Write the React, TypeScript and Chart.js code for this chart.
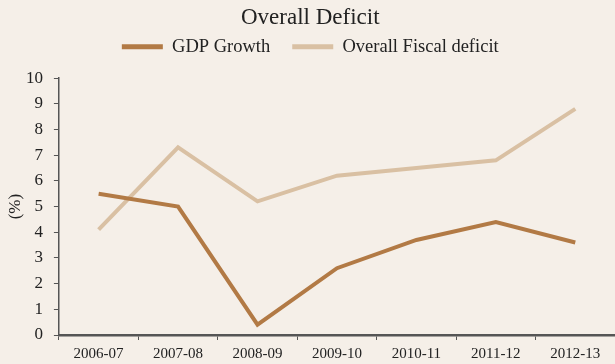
import React, { useEffect, useRef } from "react";
import { Chart, registerables } from "chart.js";

Chart.register(...registerables);

const categories = ["2006-07", "2007-08", "2008-09", "2009-10", "2010-11", "2011-12", "2012-13"];
const gdpGrowth = [5.5, 5.0, 0.4, 2.6, 3.7, 4.4, 3.6];
const fiscalDeficit = [4.1, 7.3, 5.2, 6.2, 6.5, 6.8, 8.8];
const yTicks = [0, 1, 2, 3, 4, 5, 6, 7, 8, 9, 10];

const GDP_COLOR = "#B27A45";
const FISCAL_COLOR = "#D9C0A3";
const BG = "#F5EFE8";
const TEXT = "#222222";
const AXIS = "#555555";
const FONT = "'Liberation Serif', 'Times New Roman', serif";
const LEGEND_EXTRA = 12;

export default function App() {
  const ref = useRef<HTMLCanvasElement | null>(null);

  useEffect(() => {
    if (!ref.current) return;
    const bgPlugin = {
      id: "bg",
      beforeDraw(chart: any) {
        const { ctx, width, height } = chart;
        ctx.save();
        ctx.fillStyle = BG;
        ctx.fillRect(0, 0, width, height);
        ctx.restore();
      },
    };
    const legendSpace = {
      id: "legendSpace",
      afterInit(chart: any) {
        const lg = chart.legend;
        if (!lg) return;
        const orig = lg.fit.bind(lg);
        lg.fit = () => {
          orig();
          lg.height += LEGEND_EXTRA;
        };
      },
    };
    const chart = new Chart(ref.current, {
      type: "line",
      data: {
        labels: categories,
        datasets: [
          {
            label: "GDP Growth",
            data: gdpGrowth,
            borderColor: GDP_COLOR,
            backgroundColor: GDP_COLOR,
            borderWidth: 4,
            pointRadius: 0,
            tension: 0,
          },
          {
            label: "Overall Fiscal deficit",
            data: fiscalDeficit,
            borderColor: FISCAL_COLOR,
            backgroundColor: FISCAL_COLOR,
            borderWidth: 4,
            pointRadius: 0,
            tension: 0,
          },
        ],
      },
      options: {
        responsive: false,
        animation: false,
        layout: { padding: { left: 5.5, right: 0, top: 2, bottom: -4 } },
        plugins: {
          title: {
            display: true,
            text: "Overall Deficit",
            color: TEXT,
            font: { family: FONT, size: 23, weight: "normal" },
            padding: { top: 2, bottom: -16 },
          },
          legend: {
            display: true,
            labels: {
              color: TEXT,
              font: { family: FONT, size: 18.5 },
              boxWidth: 41,
              boxHeight: 5,
              padding: 22,
              generateLabels: (c: any) =>
                (Chart.defaults.plugins.legend.labels as any)
                  .generateLabels(c)
                  .map((l: any) => ({ ...l, lineWidth: 0 })),
            },
          },
          tooltip: { enabled: false },
        },
        scales: {
          x: {
            type: "category",
            offset: true,
            grid: {
              offset: true,
              drawOnChartArea: false,
              drawTicks: true,
              tickLength: 5,
              color: AXIS,
            },
            border: { display: true, color: AXIS, width: 2.5 },
            ticks: {
              color: TEXT,
              font: { family: FONT, size: 15 },
              maxRotation: 0,
              padding: 5,
            },
          },
          y: {
            min: 0,
            max: 10,
            afterBuildTicks: (axis: any) => {
              axis.ticks = yTicks.map((v) => ({ value: v }));
            },
            grid: {
              drawOnChartArea: false,
              drawTicks: true,
              tickLength: 5,
              color: AXIS,
            },
            border: { display: true, color: AXIS, width: 1.5 },
            ticks: {
              color: TEXT,
              font: { family: FONT, size: 17 },
              padding: 11,
            },
            title: {
              display: true,
              text: "(%)",
              color: TEXT,
              font: { family: FONT, size: 17 },
              padding: { top: 0, bottom: -11 },
            },
          },
        },
      },
      plugins: [bgPlugin, legendSpace],
    });
    return () => chart.destroy();
  }, []);

  return (
    <div style={{ position: "fixed", left: 0, top: 0, width: 615, height: 364, background: BG }}>
      <canvas ref={ref} width={615} height={364} style={{ display: "block" }} />
    </div>
  );
}
